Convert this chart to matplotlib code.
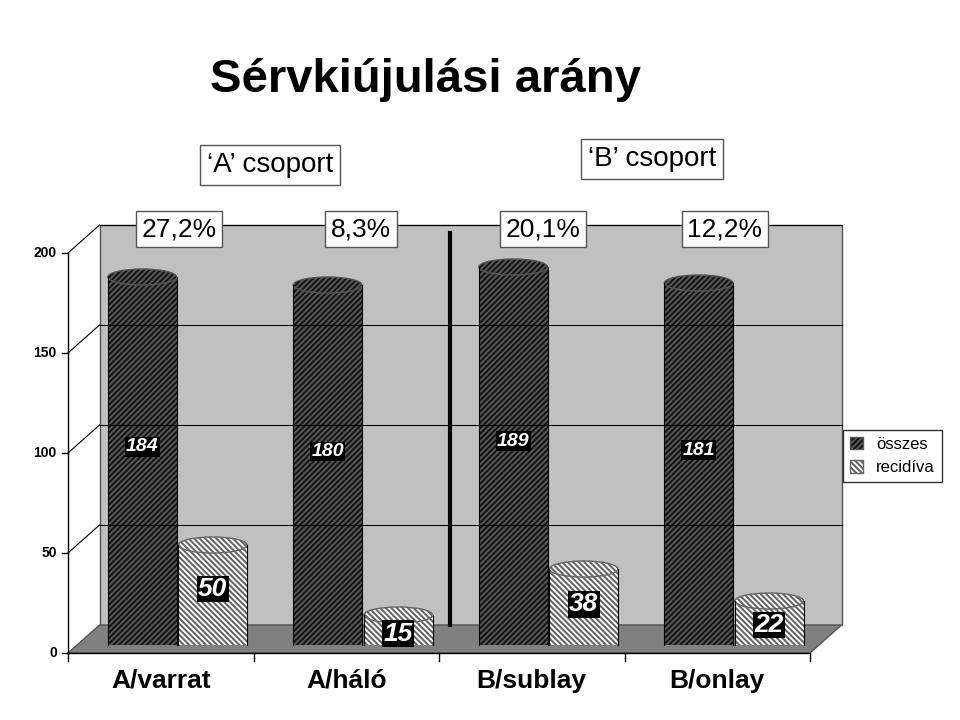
import matplotlib.pyplot as plt
from matplotlib.patches import Polygon, Rectangle, Ellipse, Patch

plt.rcParams['font.family'] = ['Liberation Sans', 'DejaVu Sans']
plt.rcParams['hatch.linewidth'] = 1.5

categories = ['A/varrat', 'A/háló', 'B/sublay', 'B/onlay']
osszes = [184, 180, 189, 181]
recidiva = [50, 15, 38, 22]
percents = ['27,2%', '8,3%', '20,1%', '12,2%']
groups = ["‘A’ csoport", "‘B’ csoport"]

fig = plt.figure(figsize=(9.6, 7.2), dpi=100)
ax = fig.add_axes([68/960, 67/720, 742/960, 400/720])
ax.set_xlim(0, 4)
ax.set_ylim(0, 200)
ax.axis('off')

dx, dy = 0.17, 14  # depth offset in data units

# back wall and floor
ax.add_patch(Polygon([(dx, dy), (4 + dx, dy), (4 + dx, 200 + dy), (dx, 200 + dy)],
                     closed=True, fc='#c0c0c0', ec='#555', lw=1, clip_on=False))
ax.add_patch(Polygon([(0, 0), (4, 0), (4 + dx, dy), (dx, dy)],
                     closed=True, fc='#808080', ec='#555', lw=1, clip_on=False))
for t in [50, 100, 150, 200]:
    ax.plot([dx, 4 + dx], [t + dy, t + dy], color='black', lw=0.8, clip_on=False)
    ax.plot([0, dx], [t, t + dy], color='black', lw=0.8, clip_on=False)
ax.plot([0, 0], [0, 200], color='black', lw=1, clip_on=False)
ax.plot([0, 4], [0, 0], color='black', lw=1, clip_on=False)
for t in [0, 50, 100, 150, 200]:
    ax.plot([-0.03, 0], [t, t], color='black', lw=1, clip_on=False)
    ax.text(-0.06, t, str(t), ha='right', va='center', fontsize=10, fontweight='bold')
for i in range(5):
    ax.plot([i, i], [0, -4], color='black', lw=1, clip_on=False)

w = 0.37
eh = 8
for i in range(4):
    for val, xo, fc, hc, hatch in [(osszes[i], 0.40, '#111111', '#555', '//////'),
                                   (recidiva[i], 0.78, 'white', '#666', '\\\\\\\\\\\\')]:
        x0 = i + xo - w / 2
        yb = dy / 2 - 3
        ax.add_patch(Rectangle((x0, yb), w, val, fc=fc, ec=hc, hatch=hatch, lw=0, clip_on=False))
        ax.add_patch(Ellipse((i + xo, yb + val), w, eh, fc=fc, ec=hc, hatch=hatch, lw=1, clip_on=False))
        ax.plot([x0, x0], [yb, yb + val], color='black', lw=0.8, clip_on=False)
        ax.plot([x0 + w, x0 + w], [yb, yb + val], color='black', lw=0.8, clip_on=False)
    ax.text(i + 0.40, osszes[i] * 0.56, str(osszes[i]), ha='center', va='center', color='white',
            fontsize=14, fontweight='bold', style='italic',
            bbox=dict(fc='black', ec='none', pad=1))
    ax.text(i + 0.78, recidiva[i] * 0.64, str(recidiva[i]), ha='center', va='center', color='white',
            fontsize=19, fontweight='bold', style='italic',
            bbox=dict(fc='black', ec='none', pad=1))
    ax.text(i + 0.60 - 0.02 * i, 212, percents[i], ha='center', va='center', fontsize=19,
            bbox=dict(fc='white', ec='#555', pad=4))
    ax.text(i + 0.5, -8, categories[i], ha='center', va='top', fontsize=19, fontweight='bold')

ax.plot([2.06, 2.06], [14, 210], color='black', lw=3, clip_on=False)
ax.text(1.09, 244, groups[0], ha='center', va='center', fontsize=20,
        bbox=dict(fc='white', ec='#555', pad=5))
ax.text(3.15, 247, groups[1], ha='center', va='center', fontsize=20,
        bbox=dict(fc='white', ec='#555', pad=5))

fig.text(425/960, 1 - 80/720, 'Sérvkiújulási arány', ha='center', va='center',
         fontsize=34, fontweight='bold')

handles = [Patch(fc='#111111', ec='#555', hatch='//////'),
           Patch(fc='white', ec='#666', hatch='\\\\\\\\\\\\')]
fig.legend(handles, ['összes', 'recidíva'], loc='upper left', bbox_to_anchor=(843/960, 1 - 430/720),
           frameon=True, fancybox=False, edgecolor='black', fontsize=12, handlelength=0.8,
           handleheight=0.8, borderaxespad=0)

fig.savefig('out.png', dpi=100)
